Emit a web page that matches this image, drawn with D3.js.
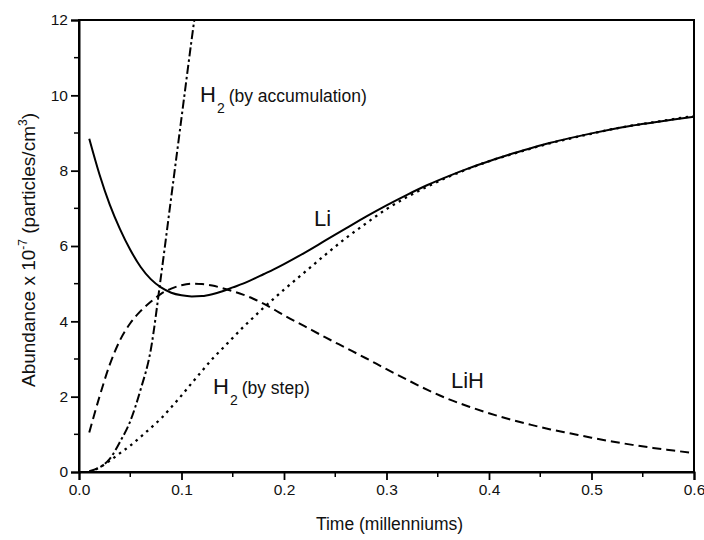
<!DOCTYPE html>
<html>
<head>
<meta charset="utf-8">
<script src="https://cdn.jsdelivr.net/npm/d3@7"></script>
<style>
  body { margin: 0; background: #fff; }
  text { font-family: "Liberation Sans", Arial, sans-serif; fill: #111; }
</style>
</head>
<body>
<div id="chart"></div>
<script>
const width = 704;
const height = 540;
const margin = { top: 20, right: 10, bottom: 68, left: 79 };

// time in millenniums
const liTime = [0.01, 0.02, 0.03, 0.04, 0.05, 0.06, 0.07, 0.08, 0.09, 0.10, 0.11, 0.12, 0.13, 0.14, 0.15, 0.16, 0.17, 0.18, 0.19, 0.20,
    0.22, 0.24, 0.26, 0.28, 0.30, 0.32, 0.34, 0.36, 0.38, 0.40, 0.42, 0.44, 0.46, 0.48, 0.50, 0.52, 0.54, 0.56, 0.58, 0.60];
const liValues = [8.85, 7.9, 7.1, 6.45, 5.9, 5.45, 5.12, 4.9, 4.76, 4.69, 4.66, 4.67, 4.72, 4.8, 4.9, 5.0, 5.12, 5.25, 5.38, 5.52,
    5.82, 6.14, 6.46, 6.78, 7.08, 7.36, 7.62, 7.85, 8.06, 8.25, 8.43, 8.59, 8.74, 8.87, 8.99, 9.1, 9.2, 9.28, 9.36, 9.43];
const lihValues = [1.05, 2.0, 2.85, 3.5, 3.95, 4.27, 4.52, 4.73, 4.87, 4.96, 5.0, 4.99, 4.95, 4.88, 4.8, 4.71, 4.6, 4.47, 4.32, 4.16,
    3.87, 3.58, 3.3, 3.02, 2.73, 2.45, 2.18, 1.94, 1.74, 1.56, 1.4, 1.26, 1.13, 1.02, 0.91, 0.81, 0.72, 0.64, 0.57, 0.5];
const h2StepValues = [0.0, 0.12, 0.3, 0.5, 0.7, 0.93, 1.17, 1.42, 1.72, 2.03, 2.36, 2.68, 3.0, 3.28, 3.56, 3.84, 4.1, 4.36, 4.6, 4.84,
    5.3, 5.76, 6.2, 6.6, 6.98, 7.3, 7.58, 7.83, 8.05, 8.25, 8.42, 8.58, 8.73, 8.86, 8.98, 9.1, 9.2, 9.28, 9.37, 9.45];

const accTime = [0.01, 0.02, 0.03, 0.04, 0.05, 0.06, 0.07, 0.08, 0.09, 0.10, 0.11, 0.115];
const accValues = [0.02, 0.12, 0.35, 0.8, 1.35, 2.18, 3.24, 5.2, 7.3, 9.4, 11.5, 12.5];

const xTicks = [0.0, 0.1, 0.2, 0.3, 0.4, 0.5, 0.6];
const yTicks = [0, 2, 4, 6, 8, 10, 12];

const svg = d3.select("#chart")
    .append("svg")
    .attr("width", width)
    .attr("height", height);

const x = d3.scaleLinear().domain([0, 0.6]).range([margin.left, width - margin.right]);
const y = d3.scaleLinear().domain([0, 12]).range([height - margin.bottom, margin.top]);

svg.append("defs").append("clipPath").attr("id", "plot")
    .append("rect")
    .attr("x", margin.left).attr("y", margin.top)
    .attr("width", width - margin.left - margin.right)
    .attr("height", height - margin.top - margin.bottom);

// frame (top and right)
svg.append("rect")
    .attr("x", margin.left).attr("y", margin.top)
    .attr("width", width - margin.left - margin.right)
    .attr("height", height - margin.top - margin.bottom)
    .attr("fill", "none").attr("stroke", "#000").attr("stroke-width", 2);

// minor ticks
const xMinor = d3.range(0.05, 0.6, 0.1);
const yMinor = d3.range(1, 12, 2);
svg.append("g").selectAll("line").data(xMinor).join("line")
    .attr("x1", d => x(d)).attr("x2", d => x(d))
    .attr("y1", y(0)).attr("y2", y(0) + 5)
    .attr("stroke", "#000").attr("stroke-width", 1.5);
svg.append("g").selectAll("line").data(yMinor).join("line")
    .attr("x1", x(0)).attr("x2", x(0) - 5)
    .attr("y1", d => y(d)).attr("y2", d => y(d))
    .attr("stroke", "#000").attr("stroke-width", 1.5);

// axes
const xAxis = svg.append("g")
    .attr("transform", `translate(0,${y(0)})`)
    .call(d3.axisBottom(x).tickValues(xTicks).tickFormat(d3.format(".1f")).tickSize(8).tickPadding(4));
const yAxis = svg.append("g")
    .attr("transform", `translate(${x(0)},0)`)
    .call(d3.axisLeft(y).tickValues(yTicks).tickFormat(d3.format("d")).tickSize(8).tickPadding(3));

[xAxis, yAxis].forEach(g => {
    g.select(".domain").attr("stroke-width", 2);
    g.selectAll(".tick line").attr("stroke-width", 1.8);
    g.selectAll(".tick text")
        .style("font-family", "'Liberation Sans', Arial, sans-serif")
        .style("font-size", "15.5px")
        .attr("fill", "#222");
});

// curves
const line = d3.line()
    .x(d => x(d[0]))
    .y(d => y(d[1]))
    .curve(d3.curveMonotoneX);

const series = [
    { values: d3.zip(liTime, liValues), dash: null, w: 2 },
    { values: d3.zip(liTime, lihValues), dash: "9,5", w: 2 },
    { values: d3.zip(liTime, h2StepValues), dash: "2.5,4.5", w: 2.3 },
    { values: d3.zip(accTime, accValues), dash: "9,3,2.5,3", w: 2 }
];

svg.append("g").attr("clip-path", "url(#plot)")
    .selectAll("path").data(series).join("path")
    .attr("d", d => line(d.values))
    .attr("fill", "none")
    .attr("stroke", "#000")
    .attr("stroke-width", d => d.w)
    .attr("stroke-dasharray", d => d.dash);

// curve labels
function h2Label(px, py, note) {
    const t = svg.append("text").attr("x", px).attr("y", py);
    t.append("tspan").style("font-size", "22px").text("H");
    t.append("tspan").style("font-size", "14px").attr("dy", 11).attr("dx", 1).text("2");
    t.append("tspan").style("font-size", "17.5px").attr("dx", 4).attr("dy", -11).text(note);
}
h2Label(200, 102, "(by accumulation)");
h2Label(213, 394, "(by step)");

svg.append("text").attr("x", 314).attr("y", 226).style("font-size", "22px").text("Li");
svg.append("text").attr("x", 451).attr("y", 388).style("font-size", "22px").text("LiH");

// axis titles
svg.append("text")
    .attr("x", (margin.left + width - margin.right) / 2 + 3)
    .attr("y", 530)
    .attr("text-anchor", "middle")
    .style("font-size", "17.5px")
    .text("Time (millenniums)");

const yt = svg.append("text")
    .attr("transform", `translate(35,250) rotate(-90)`)
    .attr("text-anchor", "middle")
    .style("font-size", "19px");
yt.append("tspan").text("Abundance x 10");
yt.append("tspan").style("font-size", "12px").attr("dy", -8).text("-7");
yt.append("tspan").attr("dy", 8).text(" (particles/cm");
yt.append("tspan").style("font-size", "12px").attr("dy", -8).text("3");
yt.append("tspan").attr("dy", 8).text(")");
</script>
</body>
</html>
